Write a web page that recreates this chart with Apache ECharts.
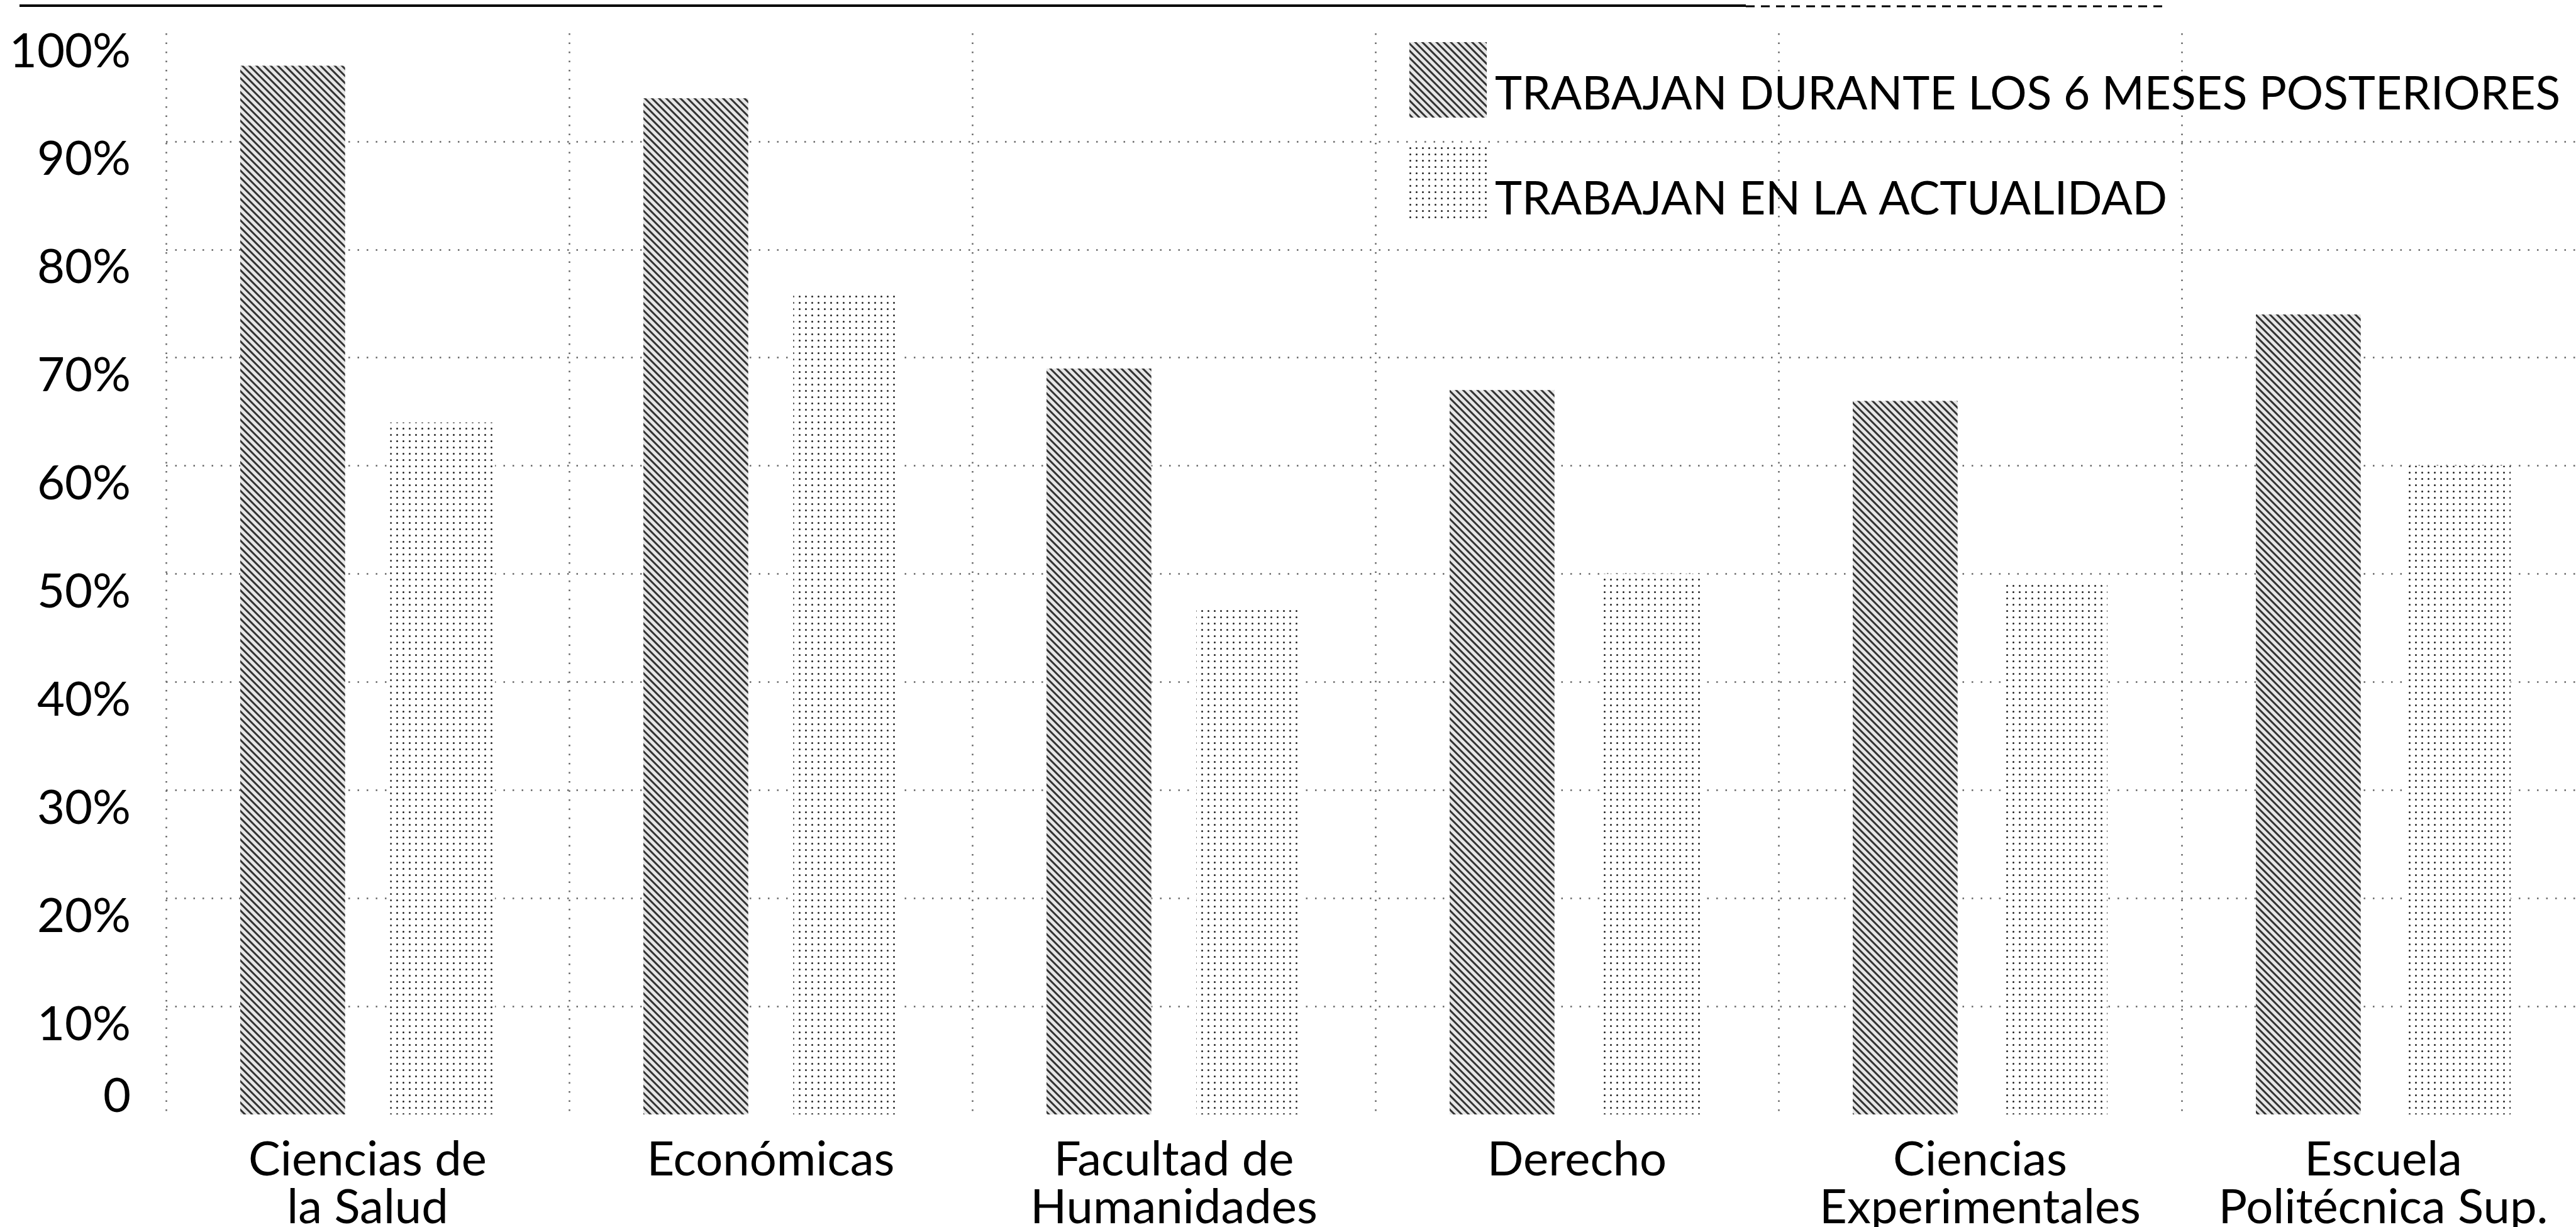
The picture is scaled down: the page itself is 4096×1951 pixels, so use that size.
<!DOCTYPE html>
<html lang="es">
<head>
  <meta charset="UTF-8">
  <title>Trabajan durante los 6 meses posteriores / en la actualidad</title>
  <style type="text/css">
    html, body { margin: 0; padding: 0; background: #fff; }
    #main { width: 4096px; height: 1951px; }
  </style>
</head>
<body>
<div id="main"></div>
<script src="https://cdn.jsdelivr.net/npm/echarts@6/dist/echarts.min.js"></script>
<script type="text/javascript">
  // datos
  var categories = ['Ciencias de\nla Salud', 'Económicas', 'Facultad de\nHumanidades', 'Derecho', 'Ciencias\nExperimentales', 'Escuela\nPolitécnica Sup.'];
  var seriesNames = ['TRABAJAN DURANTE LOS 6 MESES POSTERIORES', 'TRABAJAN EN LA ACTUALIDAD'];
  var seisMeses = [97, 94, 69, 67, 66, 74];
  var actualidad = [64, 76, 47, 50, 49, 60];
  var yTickLabels = ['0', '10%', '20%', '30%', '40%', '50%', '60%', '70%', '80%', '90%', '100%'];

  var font = 'Lato';
  var dotted = { color: '#666', width: 2.5, type: [2.5, 12] };

  var myChart = echarts.init(document.getElementById('main'));
  var option = {
    backgroundColor: '#fff',
    animation: false,
    graphic: [
      { type: 'line', shape: { x1: 31, y1: 9, x2: 2776, y2: 9 }, style: { stroke: '#000', lineWidth: 4 } },
      { type: 'line', shape: { x1: 2776, y1: 10, x2: 3441, y2: 10 }, style: { stroke: '#000', lineWidth: 3, lineDash: [14, 10] } }
    ],
    grid: {
      left: 264,
      top: 53,
      bottom: 179,
      width: 3846,
      containLabel: false,
      outerBoundsMode: 'none'
    },
    legend: {
      orient: 'vertical',
      left: 2236,
      top: 62,
      itemWidth: 123,
      itemHeight: 120,
      itemGap: 47,
      icon: 'rect',
      selectedMode: false,
      data: seriesNames,
      formatter: function (name) {
        return '{g| }\n{t|' + name + '}';
      },
      textStyle: {
        padding: [0, 0, 0, 8],
        rich: {
          g: { fontSize: 10, lineHeight: 46 },
          t: { fontSize: 73, lineHeight: 73, fontFamily: font, color: '#000' }
        }
      }
    },
    xAxis: {
      type: 'category',
      data: categories,
      axisLine: { show: false },
      axisTick: { show: false },
      splitLine: { show: true, interval: 0, lineStyle: dotted },
      axisLabel: {
        interval: 0,
        margin: 34,
        fontSize: 76,
        lineHeight: 76,
        fontFamily: font,
        color: '#000'
      }
    },
    yAxis: {
      type: 'value',
      min: 0,
      max: 100,
      interval: 10,
      axisLine: { show: false },
      axisTick: { show: false },
      splitLine: { show: true, showMinLine: false, showMaxLine: false, lineStyle: dotted },
      axisLabel: {
        margin: 56,
        formatter: function (v) {
          var t = yTickLabels[Math.round(v / 10)];
          return v === 0 ? '{v|' + t + '}\n{g| }' : '{g| }\n{v|' + t + '}';
        },
        rich: {
          v: { fontSize: 76, lineHeight: 76, fontFamily: font, color: '#000' },
          g: { fontSize: 10, lineHeight: 58 }
        }
      }
    },
    series: [{
      name: seriesNames[0],
      type: 'bar',
      data: seisMeses,
      barWidth: '26%',
      barGap: '43%',
      itemStyle: {
        color: '#e6e6e6',
        decal: {
          symbol: 'rect',
          symbolSize: 1,
          color: '#333',
          dashArrayX: [1, 0],
          dashArrayY: [2.5, 4.5],
          rotation: Math.PI / 4
        }
      }
    }, {
      name: seriesNames[1],
      type: 'bar',
      data: actualidad,
      barWidth: '26%',
      barGap: '43%',
      itemStyle: {
        color: '#ffffff',
        decal: {
          symbol: 'circle',
          symbolSize: 1,
          color: '#222',
          dashArrayX: [3, 7],
          dashArrayY: [3, 7],
          rotation: 0
        }
      }
    }]
  };
  myChart.setOption(option);
</script>
</body>
</html>
